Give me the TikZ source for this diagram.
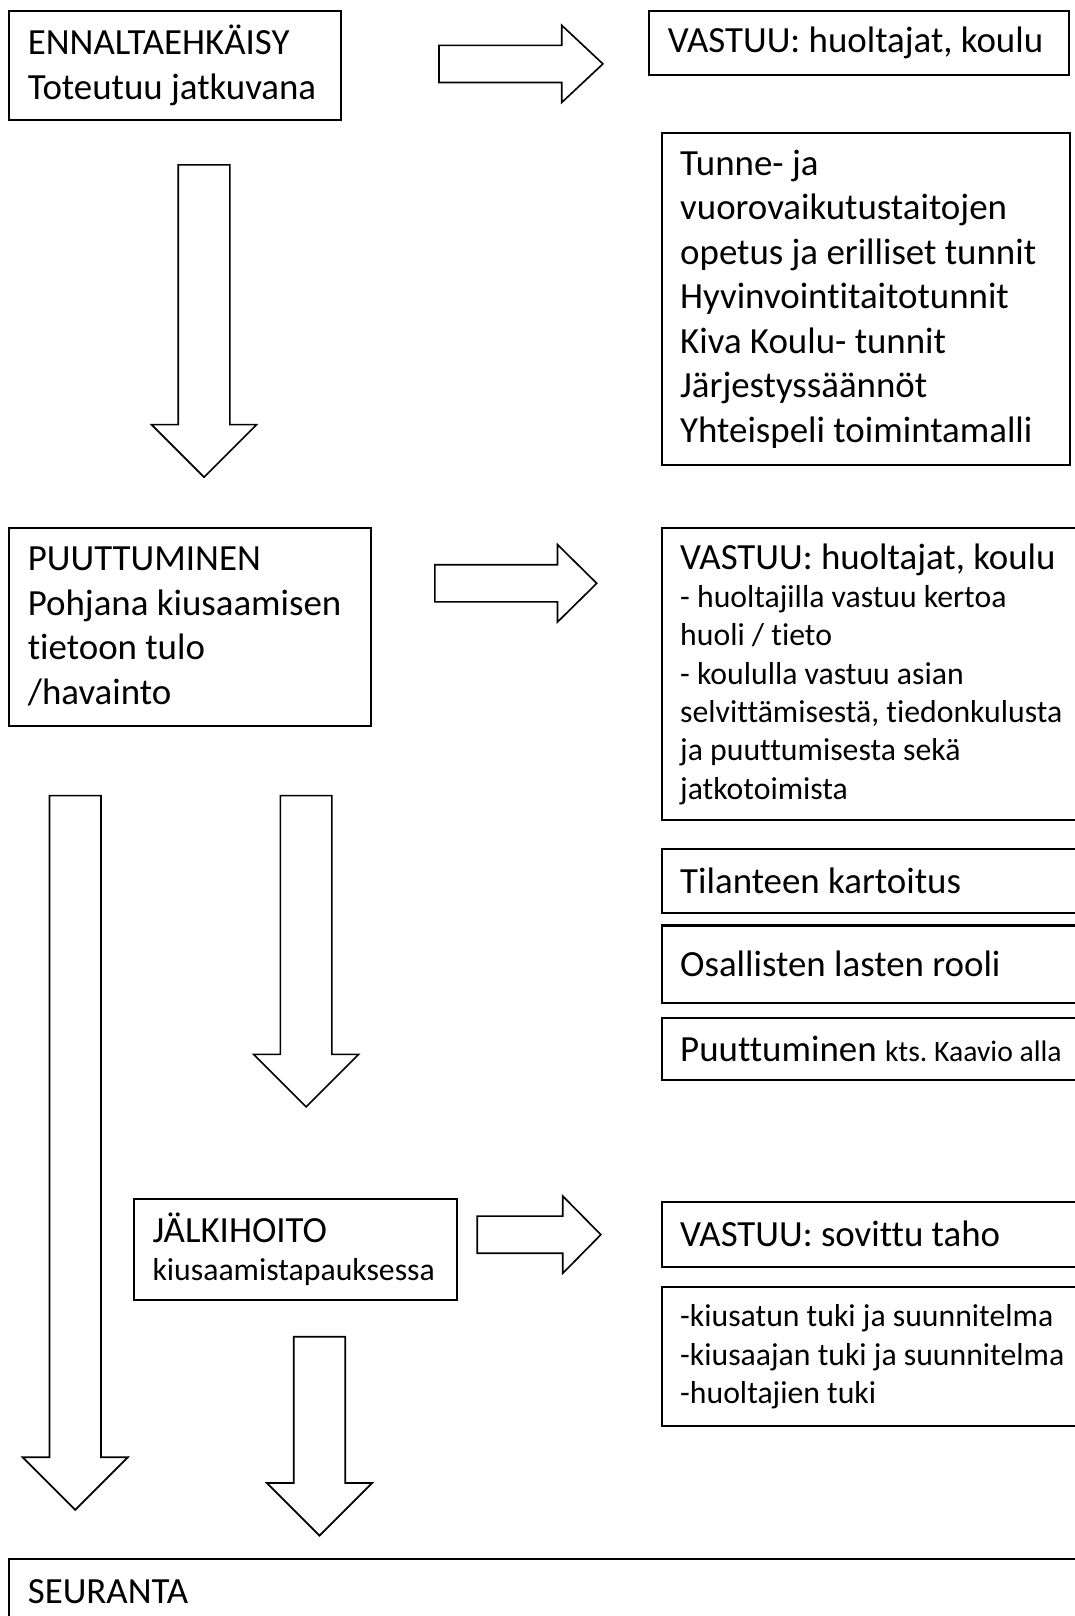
\documentclass[tikz,border=0pt]{standalone}
\usepackage{fontspec}
\setmainfont{Carlito}[Ligatures=NoCommon]
\frenchspacing
\newcommand{\bigtext}{\fontsize{17.9}{21.6}\selectfont}
\newcommand{\smalltext}{\fontsize{15.4}{18.6}\selectfont}
\newcommand{\tinytext}{\fontsize{14.4}{16}\selectfont}
\newcommand{\downblock}[4]{\draw[blockarrow] (#1,#2) -- (#1+50,#2) -- (#1+50,#3) -- (#1+76,#3) -- (#1+25,#4) -- (#1-26,#3) -- (#1,#3) -- cycle;}
\newcommand{\rightblock}[4]{\draw[blockarrow] (#1,#4-18) -- (#2,#4-18) -- (#2,#4-37.5) -- (#3,#4) -- (#2,#4+37.5) -- (#2,#4+18) -- (#1,#4+18) -- cycle;}

\begin{document}
\begin{tikzpicture}[x=0.5pt,y=-0.5pt,
    box/.style={draw,line width=1pt,anchor=north west,align=flush left,inner xsep=9pt,inner ysep=0pt,font=\bigtext},
    blockarrow/.style={draw,line width=0.8pt,line join=miter}]
    \useasboundingbox (0,0) rectangle (1043,1568);

    \node[box,text width=143pt,minimum height=52.5pt] (ennalta) at (8,10) {ENNALTAEHKÄISY\\Toteutuu jatkuvana};
    \rightblock{426}{545}{585}{62}
    \node[box,text width=185.5pt,minimum height=31pt] (vastuuA) at (629,10) {VASTUU: huoltajat, koulu};
    \node[box,text width=180pt,minimum height=161pt] (keinot) at (641,128) {Tunne- ja\\vuorovaikutustaitojen\\opetus ja erilliset tunnit\\Hyvinvointitaitotunnit\\Kiva Koulu- tunnit\\Järjestyssäännöt\\Yhteispeli toimintamalli};
    \downblock{173}{160}{412}{463}

    \node[box,text width=157.5pt,minimum height=96pt] (puuttuminen) at (8,511) {PUUTTUMINEN\\Pohjana kiusaamisen\\tietoon tulo\\/havainto};
    \rightblock{422}{541}{579}{566}
    \node[box,text width=192pt,minimum height=142pt] (vastuuB) at (641,511) {VASTUU: huoltajat, koulu\\\smalltext - huoltajilla vastuu kertoa\\huoli / tieto\\- koululla vastuu asian\\selvittämisestä, tiedonkulusta\\ja puuttumisesta sekä\\jatkotoimista\par};
    \node[box,text width=192pt,minimum height=31pt] (kartoitus) at (641,823) {Tilanteen kartoitus};
    \node[box,text width=192pt,minimum height=37.5pt] (rooli) at (641,897) {Osallisten lasten rooli};
    \node[box,text width=192pt,minimum height=30pt] (toimet) at (641,987) {Puuttuminen {\tinytext kts. Kaavio alla}};
    \downblock{48}{772}{1414}{1465}
    \downblock{272}{772}{1023}{1074}

    \node[box,text width=138.5pt,minimum height=49pt] (jalkihoito) at (129,1162) {JÄLKIHOITO\\\smalltext kiusaamistapauksessa\par};
    \rightblock{463}{546}{583}{1198}
    \node[box,text width=192pt,minimum height=31.5pt] (vastuuC) at (641,1165) {VASTUU: sovittu taho};
    \node[box,text width=192pt,minimum height=67.5pt,font=\smalltext] (tuki) at (641,1248) {-kiusatun tuki ja suunnitelma\\-kiusaajan tuki ja suunnitelma\\-huoltajien tuki};
    \downblock{285}{1297}{1439}{1490}

    \node[box,text width=508pt,minimum height=31pt] (seuranta) at (8,1512) {SEURANTA};
\end{tikzpicture}
\end{document}
